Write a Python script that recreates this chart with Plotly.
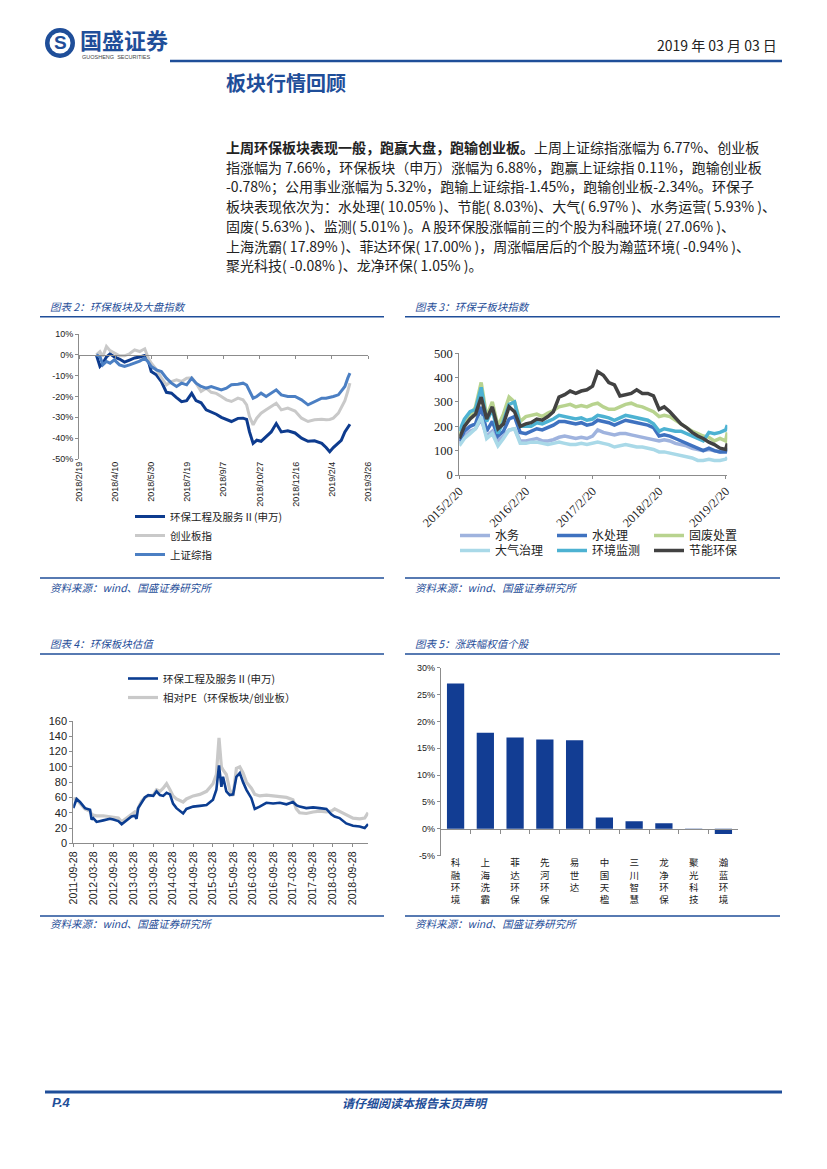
import plotly.graph_objects as go
import pandas as pd

# The page shows the figure inside the default 8px body margin, so the figure is
# made 16px smaller than the page and all layout positions are given in page pixels.
PAGE_W, PAGE_H = 827, 1169
OFF = 8
W, H = PAGE_W - 2 * OFF, PAGE_H - 2 * OFF
BLUE = "#1f4e99"
CJK = "Noto Sans CJK SC"
SANS = "Liberation Sans, Arial, sans-serif"
SERIF = "Liberation Serif, Times New Roman, serif"


def fx(p):
    return (p - OFF) / W


def fy(p):
    return 1 - (p - OFF) / H


# ---------------- chart 2 data: 环保板块及大盘指数 ----------------
dates2 = ["2018-03-15", "2018-03-20", "2018-03-24", "2018-03-29", "2018-04-03", "2018-04-09", "2018-04-16",
          "2018-04-23", "2018-04-30", "2018-05-07", "2018-05-14", "2018-05-21", "2018-05-26", "2018-05-30",
          "2018-06-06", "2018-06-13", "2018-06-20", "2018-06-27", "2018-07-04", "2018-07-11", "2018-07-18",
          "2018-07-25", "2018-07-31", "2018-08-07", "2018-08-14", "2018-08-21", "2018-08-28", "2018-09-04",
          "2018-09-11", "2018-09-18", "2018-09-27", "2018-10-04", "2018-10-09", "2018-10-13", "2018-10-18",
          "2018-10-23", "2018-10-29", "2018-11-05", "2018-11-12", "2018-11-19", "2018-11-26", "2018-12-05",
          "2018-12-15", "2018-12-24", "2019-01-02", "2019-01-11", "2019-01-21", "2019-01-27", "2019-02-01",
          "2019-02-06", "2019-02-13", "2019-02-17", "2019-02-22", "2019-02-26", "2019-03-01"]
env2 = [0, -5.5, -4, -1, 0.5, -1, -2, -3.5, -2.5, -1.5, -1, -0.3, -3, -8, -9.6, -12.8, -18, -18.4, -20.5, -22.5,
        -22, -18.5, -22, -23, -26.4, -27.5, -28.5, -30, -31, -32, -30.5, -30.4, -31, -37, -42.5, -41, -41.5,
        -39.3, -37, -33, -37, -36.5, -37.5, -40, -41.5, -41.3, -42.5, -44.5, -46.5, -44.5, -42.5, -41, -37,
        -35, -33.3]
gem2 = [0, 1.6, -0.8, 4, 2, 0.8, -0.5, -0.5, 0.5, 2.4, 1.6, 2.9, -1.6, -4, -7, -11, -14.4, -12.8, -12, -12.8,
        -11.2, -11, -13.6, -17.6, -16, -18, -18.5, -20, -21.6, -22.4, -20.8, -21.6, -24, -29.6, -33.6, -30.4,
        -28, -26.4, -24.8, -23.2, -26.4, -25.6, -27, -30.4, -32, -31.2, -30.9, -31.2, -31, -30.4, -28, -25.6,
        -22, -17.5, -13.6]
sse2 = [0, -0.8, -4.8, -3.2, -4, -2.4, -4.8, -5.6, -4.8, -4, -3, -1.6, -3.5, -5.6, -7.2, -8, -11.2, -13.6,
        -15.2, -13.6, -14.4, -11.2, -13.6, -15.2, -16, -15.2, -16, -16.8, -16, -14.4, -14.1, -13.6, -14.5,
        -17.6, -20.8, -20, -18.4, -20, -18.4, -16.8, -19.2, -20, -20, -21.6, -24, -22.4, -20.8, -20.8, -20.5,
        -20, -19.2, -17.6, -15.2, -11.2, -8.8]
names2 = ["环保工程及服务Ⅱ(申万)", "创业板指", "上证综指"]
colors2 = ["#0d3b8e", "#c9c9c9", "#4b7fc3"]
tick2_vals = ["2018-02-19", "2018-04-10", "2018-05-30", "2018-07-19", "2018-09-07", "2018-10-27",
              "2018-12-16", "2019-02-04", "2019-03-26"]
tick2_text = ["2018/2/19", "2018/4/10", "2018/5/30", "2018/7/19", "2018/9/7", "2018/10/27",
              "2018/12/16", "2019/2/4", "2019/3/26"]
y2_vals = [10, 0, -10, -20, -30, -40, -50]
y2_text = ["10%", "0%", "-10%", "-20%", "-30%", "-40%", "-50%"]

# ---------------- chart 3 data: 环保子板块指数 ----------------
dates3 = [d.strftime("%Y-%m-%d") for d in pd.date_range("2015-02-20", periods=49, freq=pd.DateOffset(months=1))]
dates3.append("2019-03-01")
shuiwu = [130, 160, 180, 190, 230, 160, 180, 140, 160, 185, 190, 140, 140, 145, 150, 140, 140, 145, 155, 160,
          155, 150, 155, 150, 160, 185, 175, 170, 165, 170, 170, 165, 160, 155, 150, 145, 140, 145, 140, 130,
          125, 120, 110, 105, 100, 105, 100, 95, 100, 105]
shuichuli = [140, 180, 200, 210, 280, 180, 220, 160, 180, 230, 240, 175, 170, 180, 190, 185, 195, 205, 220, 220,
             215, 210, 215, 205, 210, 225, 220, 215, 205, 215, 225, 220, 215, 210, 205, 195, 160, 165, 160, 150,
             140, 130, 120, 110, 100, 110, 100, 95, 95, 110]
guofei = [160, 210, 240, 280, 380, 240, 300, 200, 250, 320, 300, 220, 240, 245, 250, 240, 255, 265, 280, 285,
          290, 280, 285, 280, 290, 295, 280, 270, 270, 280, 290, 295, 285, 280, 270, 260, 240, 245, 240, 225,
          210, 195, 180, 170, 160, 155, 140, 150, 140, 175]
daqi = [120, 150, 170, 190, 240, 150, 170, 120, 150, 185, 190, 130, 130, 135, 135, 130, 125, 130, 135, 130,
        125, 125, 130, 125, 130, 135, 130, 125, 115, 120, 125, 120, 115, 115, 110, 105, 95, 95, 90, 85,
        80, 75, 70, 60, 60, 65, 60, 60, 65, 72]
jiance = [180, 230, 260, 270, 360, 220, 270, 170, 220, 290, 300, 200, 200, 200, 215, 210, 220, 230, 245, 240,
          235, 230, 235, 225, 230, 245, 240, 235, 225, 235, 245, 240, 235, 230, 225, 210, 180, 190, 185, 180,
          180, 170, 160, 150, 140, 175, 170, 175, 185, 205]
jieneng = [150, 200, 230, 250, 320, 230, 280, 190, 210, 280, 260, 200, 210, 215, 230, 225, 240, 260, 320, 330,
           345, 335, 345, 350, 365, 425, 410, 380, 370, 325, 330, 335, 350, 335, 335, 325, 270, 280, 260, 235,
           210, 195, 175, 160, 150, 135, 125, 110, 105, 130]
names3 = ["水务", "水处理", "固废处置", "大气治理", "环境监测", "节能环保"]
colors3 = ["#9fb3de", "#3f72c0", "#b8d38f", "#a9d9e8", "#4db2d2", "#424242"]
tick3_vals = ["2015-02-20", "2016-02-20", "2017-02-20", "2018-02-20", "2019-02-20"]
tick3_text = ["2015/2/20", "2016/2/20", "2017/2/20", "2018/2/20", "2019/2/20"]

# ---------------- chart 4 data: 环保板块估值 ----------------
dates4 = ["2011-09-28", "2011-10-28", "2011-11-28", "2012-01-13", "2012-02-28", "2012-03-13", "2012-03-28",
          "2012-04-28", "2012-06-28", "2012-08-28", "2012-09-28", "2012-11-13", "2012-12-13", "2013-01-28",
          "2013-03-13", "2013-04-13", "2013-04-28", "2013-05-13", "2013-06-13", "2013-07-13", "2013-08-13",
          "2013-09-28", "2013-10-28", "2013-11-28", "2013-12-28", "2014-01-28", "2014-02-28", "2014-03-28",
          "2014-04-28", "2014-06-28", "2014-07-28", "2014-09-28", "2014-11-28", "2015-01-28", "2015-03-28",
          "2015-04-28", "2015-05-22", "2015-06-13", "2015-06-28", "2015-07-28", "2015-08-28", "2015-09-28",
          "2015-10-28", "2015-11-28", "2015-12-28", "2016-01-28", "2016-03-13", "2016-04-13", "2016-05-28",
          "2016-07-28", "2016-09-28", "2016-11-28", "2017-01-28", "2017-03-28", "2017-04-28", "2017-05-28",
          "2017-07-28", "2017-09-28", "2017-11-28", "2018-01-28", "2018-03-13", "2018-04-13", "2018-05-28",
          "2018-07-28", "2018-09-28", "2018-11-28", "2019-01-13", "2019-02-13"]
pe_env = [46, 58, 54, 46, 44, 31, 33, 28, 30, 32,
          31, 29, 25, 30, 35, 36, 32, 46, 54, 60,
          63, 62, 68, 63, 62, 66, 64, 52, 46, 39,
          45, 48, 49, 50, 57, 70, 102, 74, 87, 68,
          63, 64, 87, 92, 80, 70, 59, 45, 48, 53,
          52, 53, 51, 54, 50, 48, 46, 47, 46, 45,
          38, 35, 33, 26, 23, 22, 20, 25]
pe_rel = [58, 58, 52, 45, 42, 38, 37, 36, 36, 35,
          34, 33, 28, 33, 38, 41, 40, 46, 55, 60,
          62, 63, 70, 68, 72, 78, 70, 62, 58, 54,
          58, 62, 64, 68, 78, 90, 138, 100, 96, 90,
          70, 62, 98, 100, 92, 80, 72, 64, 62, 63,
          62, 61, 60, 57, 45, 40, 39, 41, 42, 41,
          42, 45, 42, 38, 33, 32, 33, 40]
names4 = ["环保工程及服务Ⅱ(申万)", "相对PE（环保板块/创业板）"]
colors4 = ["#0b3d91", "#c9c9c9"]
tick4_vals = ["2011-09-28", "2012-03-28", "2012-09-28", "2013-03-28", "2013-09-28", "2014-03-28",
              "2014-09-28", "2015-03-28", "2015-09-28", "2016-03-28", "2016-09-28", "2017-03-28",
              "2017-09-28", "2018-03-28", "2018-09-28"]
tick4_text = tick4_vals

# ---------------- chart 5 data: 涨跌幅权值个股 ----------------
stocks5 = ["科融环境", "上海洗霸", "菲达环保", "先河环保", "易世达", "中国天楹", "三川智慧", "龙净环保",
           "聚光科技", "瀚蓝环境"]
chg5 = [27.06, 17.89, 17.00, 16.65, 16.5, 2.1, 1.43, 1.05, -0.08, -0.94]
y5_vals = [30, 25, 20, 15, 10, 5, 0, -5]
y5_text = ["30%", "25%", "20%", "15%", "10%", "5%", "0%", "-5%"]

# ---------------- text ----------------
body_lines = [
    "<b>上周环保板块表现一般，跑赢大盘，跑输创业板。</b>上周上证综指涨幅为 6.77%、创业板",
    "指涨幅为 7.66%，环保板块（申万）涨幅为 6.88%，跑赢上证综指 0.11%，跑输创业板",
    "-0.78%；公用事业涨幅为 5.32%，跑输上证综指-1.45%，跑输创业板-2.34%。环保子",
    "板块表现依次为：水处理( 10.05% )、节能( 8.03%)、大气( 6.97% )、水务运营( 5.93% )、",
    "固废( 5.63% )、监测( 5.01% )。A 股环保股涨幅前三的个股为科融环境( 27.06% )、",
    "上海洗霸( 17.89% )、菲达环保( 17.00% )，周涨幅居后的个股为瀚蓝环境( -0.94% )、",
    "聚光科技( -0.08% )、龙净环保( 1.05% )。",
]

fig = go.Figure()

# chart 2 traces
for nm, vals, col in zip(names2, [env2, gem2, sse2], colors2):
    fig.add_trace(go.Scatter(x=dates2, y=vals, name=nm, mode="lines", line=dict(color=col, width=3),
                             xaxis="x", yaxis="y", legend="legend", hoverinfo="skip"))
fig.add_trace(go.Scatter(x=dates2[:1], y=[None], mode="lines", showlegend=False, xaxis="x5", yaxis="y",
                         hoverinfo="skip"))

# chart 3 traces
for i, (nm, vals, col) in enumerate(zip(names3, [shuiwu, shuichuli, guofei, daqi, jiance, jieneng], colors3)):
    fig.add_trace(go.Scatter(x=dates3, y=vals, name=nm, mode="lines", line=dict(color=col, width=3.5),
                             xaxis="x2", yaxis="y2", legend="legend2" if i < 3 else "legend3",
                             hoverinfo="skip"))

# chart 4 traces (gray drawn first, blue on top)
for nm, vals, col, wd in [(names4[1], pe_rel, colors4[1], 3.2), (names4[0], pe_env, colors4[0], 2.6)]:
    fig.add_trace(go.Scatter(x=dates4, y=vals, name=nm, mode="lines", line=dict(color=col, width=wd),
                             xaxis="x3", yaxis="y3", legend="legend4", hoverinfo="skip"))

# chart 5 bars
fig.add_trace(go.Bar(x=stocks5, y=chg5, marker=dict(color="#123d93", line=dict(width=0)), width=0.58,
                     showlegend=False, xaxis="x4", yaxis="y4", hoverinfo="skip"))
fig.add_trace(go.Scatter(x=stocks5[:1], y=[None], mode="lines", showlegend=False, xaxis="x6", yaxis="y4",
                         hoverinfo="skip"))

# ---------------- axes ----------------
AX = "#8c8c8c"
dom_x2 = [fx(79), fx(368)]
dom_y2 = [fy(459), fy(334)]
zero2 = dom_y2[0] + (0 - y2_vals[-1]) / (y2_vals[0] - y2_vals[-1]) * (dom_y2[1] - dom_y2[0])
dom_x5 = [fx(440.7), fx(738.3)]
dom_y5 = [fy(855.7), fy(667.7)]
zero5 = dom_y5[0] + (0 - y5_vals[-1]) / (y5_vals[0] - y5_vals[-1]) * (dom_y5[1] - dom_y5[0])

tf_sans9 = dict(family=SANS, size=9, color="#222")
layout_axes = dict(
    xaxis=dict(domain=dom_x2, anchor="y", range=[tick2_vals[0], tick2_vals[-1]], tickvals=tick2_vals,
               ticktext=tick2_text, tickangle=-90, tickfont=tf_sans9, showline=False, ticks=""),
    xaxis5=dict(domain=dom_x2, overlaying="x", anchor="free", position=zero2,
                range=[tick2_vals[0], tick2_vals[-1]], tickvals=tick2_vals, showticklabels=False,
                ticks="outside", ticklen=3, tickcolor=AX, showline=True, linecolor=AX, linewidth=1),
    yaxis=dict(domain=dom_y2, anchor="x", range=[y2_vals[-1], y2_vals[0]], tickvals=y2_vals, ticktext=y2_text,
               tickfont=tf_sans9, showline=True, linecolor=AX, ticks="outside", ticklen=3, tickcolor=AX),
    xaxis2=dict(domain=[fx(459.3), fx(727.3)], anchor="y2", range=["2015-02-20", "2019-03-01"],
                tickvals=tick3_vals, ticktext=tick3_text, tickangle=-45,
                tickfont=dict(family=SERIF, size=12.5, color="#222"), showline=True, linecolor=AX,
                ticks="outside", ticklen=3, tickcolor=AX),
    yaxis2=dict(domain=[fy(475), fy(353.3)], anchor="x2", range=[0, 500], dtick=100,
                tickfont=dict(family=SERIF, size=12.5, color="#222"), showline=True, linecolor=AX,
                ticks="outside", ticklen=3, tickcolor=AX),
    xaxis3=dict(domain=[fx(73.3), fx(368.3)], anchor="y3", range=["2011-09-28", "2019-02-15"],
                tickvals=tick4_vals, ticktext=tick4_text, tickangle=-90,
                tickfont=dict(family=SANS, size=10.5, color="#222"), showline=True, linecolor=AX,
                ticks="outside", ticklen=3, tickcolor=AX),
    yaxis3=dict(domain=[fy(843.3), fy(721)], anchor="x3", range=[0, 160], dtick=20,
                tickfont=dict(family=SANS, size=11, color="#222"), showline=True, linecolor=AX,
                ticks="outside", ticklen=3, tickcolor=AX),
    xaxis4=dict(domain=dom_x5, anchor="y4", type="category", categoryorder="array", categoryarray=stocks5,
                range=[-0.5, len(stocks5) - 0.5], tickvals=stocks5,
                ticktext=["<br>".join(list(s)) for s in stocks5],
                tickfont=dict(family=CJK, size=9.5, color="#222"), showline=False, ticks=""),
    xaxis6=dict(domain=dom_x5, overlaying="x4", anchor="free", position=zero5, type="category",
                categoryorder="array", categoryarray=stocks5, range=[-0.5, len(stocks5) - 0.5],
                tickson="boundaries", ticks="outside", ticklen=4, tickcolor=AX, showticklabels=False,
                showline=True, linecolor=AX),
    yaxis4=dict(domain=dom_y5, anchor="x4", range=[y5_vals[-1], y5_vals[0]], tickvals=y5_vals,
                ticktext=y5_text, tickfont=dict(family=SANS, size=9, color="#222"), showline=True,
                linecolor=AX, ticks="outside", ticklen=3, tickcolor=AX),
)
for k in layout_axes:
    layout_axes[k].update(showgrid=False, zeroline=False, automargin=False, fixedrange=True)

legend_common = dict(bgcolor="rgba(0,0,0,0)", xanchor="left", yanchor="top", tracegroupgap=0,
                     itemclick=False, itemdoubleclick=False)
layout_legends = dict(
    legend=dict(x=fx(130), y=fy(502), font=dict(family=CJK, size=10.5, color="#222"), **legend_common),
    legend2=dict(x=fx(455), y=fy(521), orientation="h", entrywidth=52, entrywidthmode="pixels",
                 font=dict(family=CJK, size=12, color="#222"), **legend_common),
    legend3=dict(x=fx(455), y=fy(536), orientation="h", entrywidth=52, entrywidthmode="pixels",
                 font=dict(family=CJK, size=12, color="#222"), **legend_common),
    legend4=dict(x=fx(123), y=fy(664), font=dict(family=CJK, size=10.5, color="#222"), traceorder="reversed",
                 **legend_common),
)

# ---------------- annotations ----------------
ann = []


def text(x, y, s, size, color="#222", xanchor="left", family=CJK, yanchor="middle"):
    ann.append(dict(x=fx(x), y=fy(y), xref="paper", yref="paper", text=s, showarrow=False, xanchor=xanchor,
                    yanchor=yanchor, font=dict(family=family, size=size, color=color)))


text(78, 39, "<b>国盛证券</b>", 22, BLUE)
text(80, 57, "GUOSHENG  SECURITIES", 5.5, "#444", family=SANS)
text(60, 43, "<b>S</b>", 19, BLUE, xanchor="center", family=SANS)
text(779, 45, "2019 年 03 月 03 日", 14, "#222", xanchor="right")
text(224, 83, "<b>板块行情回顾</b>", 20, BLUE)
for i, ln in enumerate(body_lines):
    text(224, 147 + 19.7 * i, ln, 14, "#222")

text(48, 306.7, "<i>图表 2：环保板块及大盘指数</i>", 10.5, BLUE)
text(413, 306.7, "<i>图表 3：环保子板块指数</i>", 10.5, BLUE)
text(48, 643.3, "<i>图表 4：环保板块估值</i>", 10.5, BLUE)
text(413, 643.3, "<i>图表 5：涨跌幅权值个股</i>", 10.5, BLUE)
for sx, sy in [(48, 587), (413, 587), (48, 923), (413, 923)]:
    text(sx, sy, "<i>资料来源：wind、国盛证券研究所</i>", 10.5, BLUE)
text(50, 1102, "<b><i>P.4</i></b>", 13, BLUE, family=SANS)
text(415, 1102, "<b><i>请仔细阅读本报告末页声明</i></b>", 12, BLUE, xanchor="center")

# ---------------- shapes ----------------
shapes = []


def hline(x0, x1, y, w, color=BLUE):
    shapes.append(dict(type="line", xref="paper", yref="paper", x0=fx(x0), x1=fx(x1), y0=fy(y), y1=fy(y),
                       line=dict(color=color, width=w)))


hline(170, 782, 61, 2.5)
hline(40, 384, 316.7, 1.5)
hline(405, 780, 316.7, 1.5)
hline(40, 384, 578, 1.5)
hline(405, 780, 578, 1.5)
hline(40, 384, 654, 1.5)
hline(405, 780, 654, 1.5)
hline(40, 384, 916, 1.5)
hline(405, 780, 916, 1.5)
hline(45, 782, 1092, 3)
shapes.append(dict(type="circle", xref="paper", yref="paper", x0=fx(45), x1=fx(75), y0=fy(58), y1=fy(28),
                   fillcolor=BLUE, line=dict(width=0)))
shapes.append(dict(type="circle", xref="paper", yref="paper", x0=fx(49.5), x1=fx(70.5), y0=fy(53.5),
                   y1=fy(32.5), fillcolor="white", line=dict(width=0)))

fig.update_layout(
    width=W, height=H, margin=dict(l=0, r=0, t=0, b=0, pad=0, autoexpand=False), paper_bgcolor="white",
    plot_bgcolor="white", showlegend=True, annotations=ann, shapes=shapes, bargap=0.42,
    **layout_axes, **layout_legends,
)

fig.write_html("out.html", config={"displayModeBar": False, "staticPlot": True})
